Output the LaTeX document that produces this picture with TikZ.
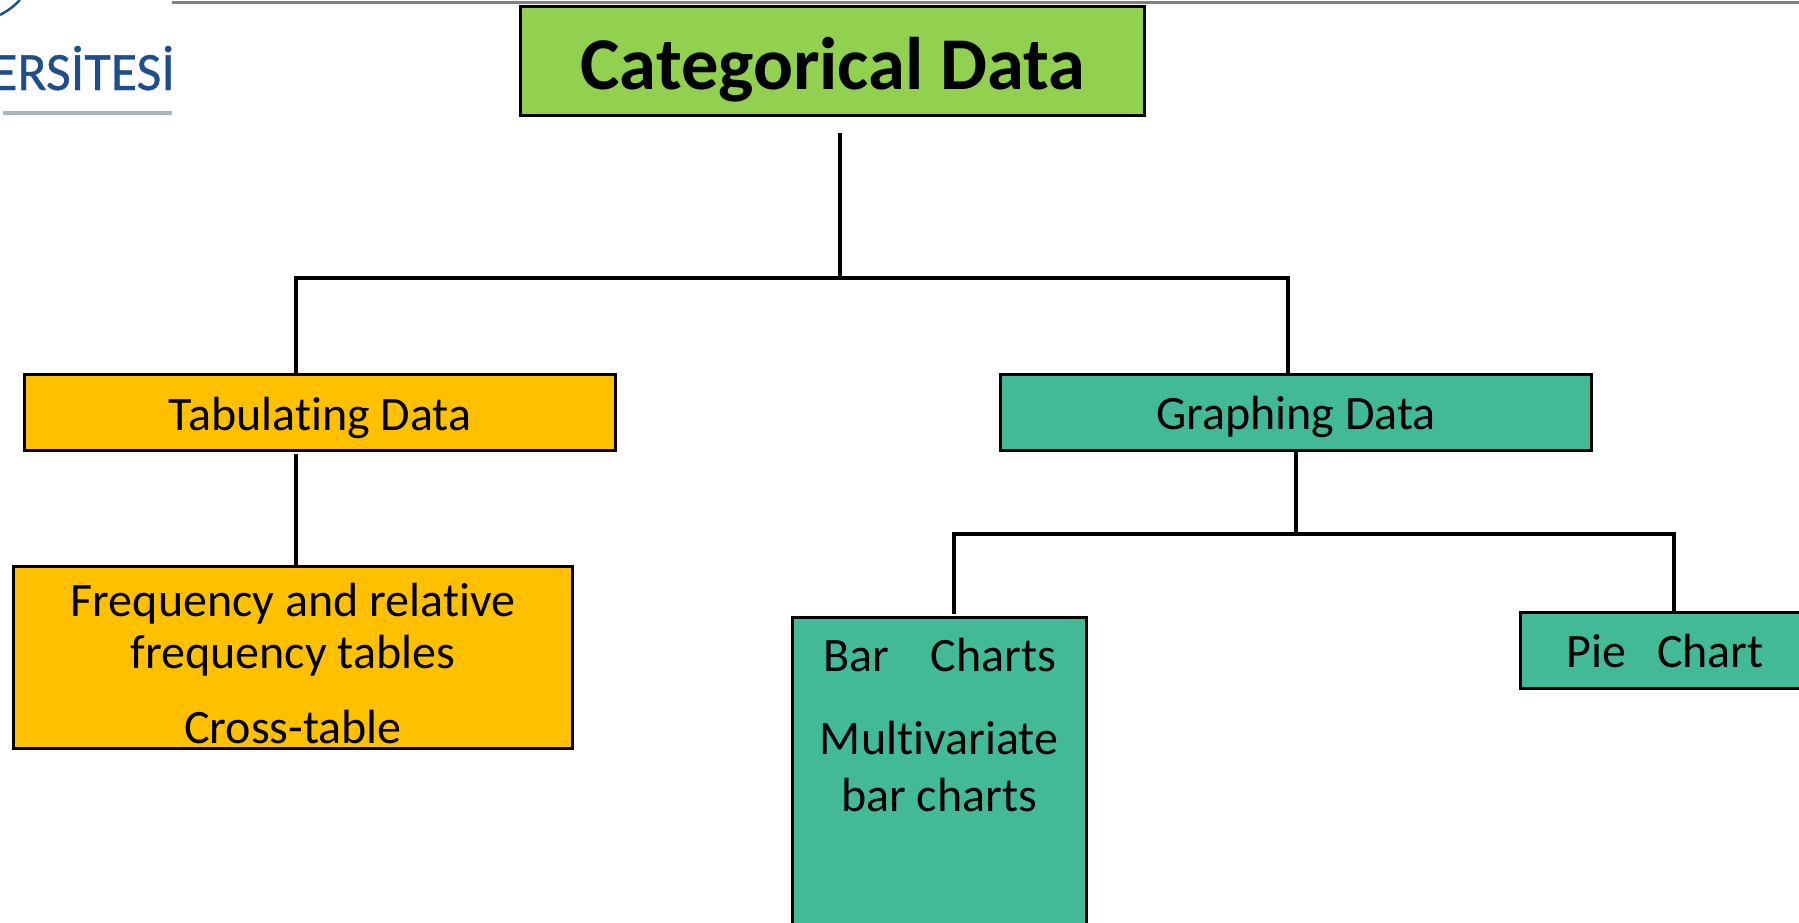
\documentclass[tikz,border=0pt]{standalone}
\usepackage{fontspec}
\setmainfont[Ligatures=NoCommon]{Carlito}
\newfontfamily\logofont[FakeBold=0.6]{Carlito}
\definecolor{cgreen}{HTML}{92D050}
\definecolor{corange}{HTML}{FFC000}
\definecolor{cteal}{HTML}{43BA97}
\definecolor{cnavy}{HTML}{1F4E8C}
\definecolor{crule}{HTML}{A9B4BC}
\definecolor{ctop}{HTML}{808080}
\tikzset{
  boxnode/.style={draw=black,line width=3pt,inner sep=0pt,outer sep=0pt,anchor=north west},
  txt/.style={inner sep=0pt,outer sep=0pt,anchor=base,font=\fontsize{48}{48}\selectfont,text=black},
  wire/.style={draw=black,line width=4pt,line cap=butt},
  thin wire/.style={draw=black,line width=3.2pt,line cap=butt},
}
\begin{document}
\begin{tikzpicture}[x=1pt,y=-1pt]
\useasboundingbox (0,0) rectangle (1799,922);
\clip (0,0) rectangle (1799,922);
\fill[white] (0,0) rectangle (1799,922);
% logo fragment
\begin{scope}
\clip (0,0) rectangle (172,130);
\node[inner sep=0pt,outer sep=0pt,anchor=base east,text=cnavy,font=\fontsize{54}{54}\logofont] (logotext) at (175,90) {ERSİTESİ};
\coordinate (arcA) at (0,15);
\coordinate (arcB) at (20,0);
\draw[cnavy,line width=2.5pt] (arcA) to[bend right=8] (arcB);
\end{scope}
\coordinate (ruleA) at (3,113);
\coordinate (ruleB) at (172,113);
\draw[crule,line width=3.5pt] (ruleA) -- (ruleB);
\coordinate (topA) at (172,2.5);
\coordinate (topB) at (1799,2.5);
\draw[ctop,line width=2.5pt] (topA) -- (topB);
% boxes
\node[boxnode,fill=cgreen,minimum width=624pt,minimum height=109pt] (cat) at (520,6) {};
\node[boxnode,fill=corange,minimum width=591pt,minimum height=76pt] (tab) at (24,374) {};
\node[boxnode,fill=cteal,minimum width=591pt,minimum height=76pt] (gra) at (1000,374) {};
\node[boxnode,fill=corange,minimum width=559pt,minimum height=182pt] (fre) at (13,566) {};
\node[boxnode,fill=cteal,minimum width=294pt,minimum height=340pt] (bar) at (792,617) {};
\node[boxnode,fill=cteal,minimum width=320pt,minimum height=76pt] (pie) at (1520,612) {};
% labels
\node[txt,font=\fontsize{74.5}{74.5}\selectfont\bfseries] (catt) at (833,89) {Categorical Data};
\node[txt] (tabt) at (320,430) {Tabulating Data};
\node[txt] (grat) at (1296,429) {Graphing Data};
\node[txt] (fre1) at (293,616.5) {Frequency and relative};
\node[txt] (fre2) at (293,668.5) {frequency tables};
\node[txt] (fre3) at (293,743.5) {Cross-table};
\node[txt] (bar1) at (940,671.5) {Bar\hspace{0.63em}\ Charts};
\node[txt] (bar2) at (939,754) {Multivariate};
\node[txt] (bar3) at (939,811) {bar charts};
\node[txt] (piet) at (1665,667.5) {Pie\hspace{0.42em}\ Chart};
% connectors
\coordinate (stemtop) at (840,133);
\coordinate (j1) at (840,278);
\coordinate (j1l) at (296,278);
\coordinate (j1r) at (1288,278);
\coordinate (tabin) at (296,374);
\coordinate (grain) at (1288,374);
\coordinate (tabout) at (296,454);
\coordinate (frein) at (296,566);
\coordinate (graout) at (1296,451);
\coordinate (j2) at (1296,534);
\coordinate (j2l) at (954,534);
\coordinate (j2r) at (1674,534);
\coordinate (barin) at (954,614);
\coordinate (piein) at (1674,613);
\draw[wire] (stemtop) -- (j1);
\draw[wire] ([xshift=-2pt]j1l) -- ([xshift=2pt]j1r);
\draw[wire] (j1l) -- (tabin);
\draw[wire] (j1r) -- (grain);
\draw[wire] (tabout) -- (frein);
\draw[thin wire] (graout) -- (j2);
\draw[wire] ([xshift=-1.6pt]j2l) -- ([xshift=1.6pt]j2r);
\draw[thin wire] (j2l) -- (barin);
\draw[thin wire] (j2r) -- (piein);
\end{tikzpicture}
\end{document}
